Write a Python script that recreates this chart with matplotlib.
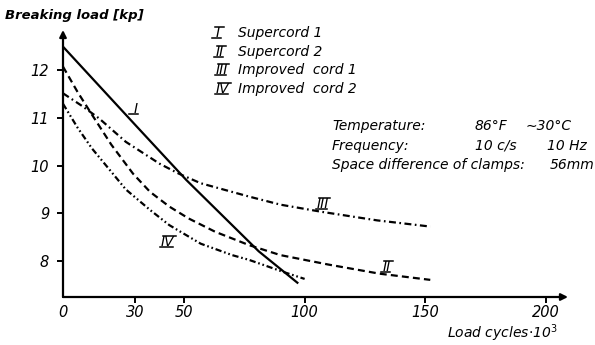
import numpy as np
import matplotlib
matplotlib.use("Agg")
import matplotlib.pyplot as plt
from matplotlib.lines import Line2D
from matplotlib.transforms import IdentityTransform

plt.rcParams['font.family'] = ['DejaVu Sans']
plt.rcParams['lines.scale_dashes'] = False

# breaking load [kp] over load cycles (x 10^3)
cyc_1 = [0, 30, 51, 81, 97]
load_1 = [12.5, 10.85, 9.7, 8.2, 7.54]

cyc_2 = [0, 6, 12, 20, 29, 36, 44, 52, 63, 77, 90, 100, 110, 131, 152]
load_2 = [12.08, 11.55, 11.07, 10.44, 9.83, 9.45, 9.14, 8.89, 8.61, 8.33,
          8.12, 8.02, 7.92, 7.73, 7.6]

cyc_3 = [0, 8, 15, 26, 40, 48, 57, 77, 90, 107, 130, 152]
load_3 = [11.52, 11.25, 10.99, 10.5, 10.04, 9.83, 9.63, 9.35, 9.18, 9.03,
          8.85, 8.72]

cyc_4 = [0, 6, 12, 20, 26, 36, 44, 57, 70, 77, 91, 100]
load_4 = [11.3, 10.8, 10.36, 9.87, 9.5, 9.07, 8.75, 8.36, 8.12, 8.02, 7.77, 7.62]

xticks = [0, 30, 50, 100, 150, 200]
yticks = [8, 9, 10, 11, 12]
numerals = ['I', 'II', 'III', 'IV']
names = ['Supercord 1', 'Supercord 2', 'Improved  cord 1', 'Improved  cord 2']

W, H = 595, 345
fig = plt.figure(figsize=(W / 100, H / 100), dpi=100)
ax = fig.add_axes([63 / W, 1 - 297 / H, 505 / W, 267 / H])
ax.set_xlim(0, 209)
ax.set_ylim(7.24, 12.85)

lw = 1.6
ax.plot(cyc_1, load_1, color='black', lw=lw)
ax.plot(cyc_2, load_2, color='black', lw=lw, dashes=(5, 3))
ax.plot(cyc_3, load_3, color='black', lw=lw, dashes=(5, 2.5, 1.2, 2.5))
ax.plot(cyc_4, load_4, color='black', lw=lw, dashes=(4.5, 2, 1.2, 2, 1.2, 2))

for s in ax.spines.values():
    s.set_visible(False)

# axes drawn as arrows
arrow = dict(arrowstyle='-|>', color='black', lw=1.6, mutation_scale=10,
             shrinkA=0, shrinkB=0)
ax.annotate('', xy=(0, 12.85), xytext=(0, 7.24), arrowprops=arrow,
            annotation_clip=False)
ax.annotate('', xy=(209, 7.24), xytext=(0, 7.24), arrowprops=arrow,
            annotation_clip=False)

ax.set_xticks(xticks)
ax.set_yticks(yticks)
ax.tick_params(axis='both', direction='out', length=4, width=1.4,
               labelsize=10.5, colors='black')
ax.tick_params(axis='x', pad=2)
ax.tick_params(axis='y', pad=6)
for lab in ax.get_xticklabels() + ax.get_yticklabels():
    lab.set_fontstyle('italic')
ax.xaxis.get_major_ticks()[0].tick1line.set_visible(False)

tkw = dict(fontstyle='italic', fontsize=10, color='black')

fig.text(5 / W, 1 - 15 / H, 'Breaking load [kp]', fontweight='bold',
         va='center', ha='left', fontstyle='italic', fontsize=9.5)
fig.text(447 / W, 1 - 338 / H, r'Load cycles$\cdot$10$^3$', va='baseline',
         ha='left', **tkw)

# numerals with bars above and below
bars = []
rows = [33, 52, 70, 89]
for num, name, y in zip(numerals, names, rows):
    t = fig.text(216 / W, 1 - y / H, num, va='center', ha='left', **tkw)
    bars.append((t, True))
    fig.text(238 / W, 1 - y / H, name, va='center', ha='left', **tkw)

lab_pos = [(30, 11.18), (134, 7.87), (107.5, 9.2), (43.4, 8.4)]
for num, (x, y) in zip(numerals, lab_pos):
    t = ax.text(x, y, num, va='center', ha='center', **tkw)
    bars.append((t, num != 'I'))

info = [
    (126, [(332, 'Temperature:'), (475, '86°F'), (526, '∼30°C')]),
    (146, [(332, 'Frequency:'), (475, '10 c/s'), (547, '10 Hz')]),
    (165, [(332, 'Space difference of clamps:'), (550, '56mm')]),
]
for y, parts in info:
    for x, s in parts:
        fig.text(x / W, 1 - y / H, s, va='center', ha='left', **tkw)

fig.canvas.draw()
r = fig.canvas.get_renderer()
for t, over in bars:
    bb = t.get_window_extent(r)
    x0, x1 = bb.x0, bb.x1
    if x1 - x0 < 10:
        xm = (x0 + x1) / 2
        x0, x1 = xm - 5, xm + 5
    y0 = bb.y0 + 2
    y1 = bb.y1 - 1
    fig.add_artist(Line2D([x0 - 1, x1 - 2], [y0, y0], color='black',
                          lw=1.1, transform=IdentityTransform()))
    if over:
        fig.add_artist(Line2D([x0 + 2, x1 + 1], [y1, y1], color='black',
                              lw=1.1, transform=IdentityTransform()))

fig.savefig('out.png', dpi=100)
